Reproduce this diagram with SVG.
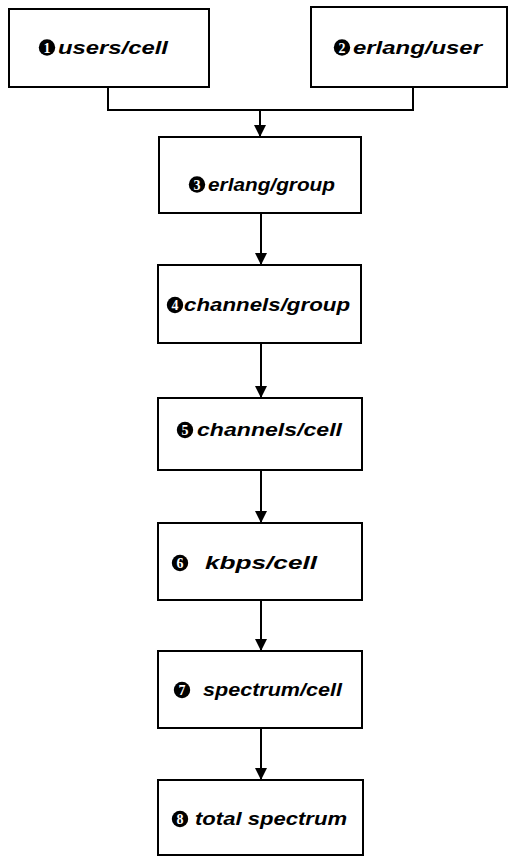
<svg xmlns="http://www.w3.org/2000/svg" width="509" height="857" viewBox="0 0 509 857">
<style>
.box{fill:#fff;stroke:#000;stroke-width:2}
.lbl{font-family:"Liberation Sans",Arial,sans-serif;font-weight:bold;font-style:italic;font-size:18px;fill:#000}
.num{font-family:"Liberation Serif","Times New Roman",serif;font-weight:bold;font-size:14px;fill:#fff;text-anchor:middle}
.line{fill:none;stroke:#000;stroke-width:2}
</style>
<defs>
<marker id="ah" markerWidth="12" markerHeight="12" refX="12" refY="6" orient="auto" markerUnits="userSpaceOnUse">
<path d="M0,0 L12,6 L0,12 Z" fill="#000"/>
</marker>
</defs>
<rect width="509" height="857" fill="#fff"/>
<g id="connectors">
<path class="line" d="M108,87 V110 H413 V87"/>
<path class="line" d="M260,110 V137" marker-end="url(#ah)"/>
<path class="line" d="M261,213 V265" marker-end="url(#ah)"/>
<path class="line" d="M261,343 V398" marker-end="url(#ah)"/>
<path class="line" d="M261,470 V523" marker-end="url(#ah)"/>
<path class="line" d="M261,600 V651" marker-end="url(#ah)"/>
<path class="line" d="M261,728 V780" marker-end="url(#ah)"/>
</g>
<g id="n1">
<rect class="box" x="9" y="9" width="200" height="78"/>
<circle cx="47" cy="47.5" r="8.2"/><text class="num" x="47" y="52.5">1</text>
<text class="lbl" x="58" y="54" textLength="110" lengthAdjust="spacingAndGlyphs">users/cell</text>
</g>
<g id="n2">
<rect class="box" x="311" y="7" width="196" height="80"/>
<circle cx="342" cy="47.5" r="8.2"/><text class="num" x="342" y="52.5">2</text>
<text class="lbl" x="353" y="54" textLength="129" lengthAdjust="spacingAndGlyphs">erlang/user</text>
</g>
<g id="n3">
<rect class="box" x="159" y="137" width="202" height="76"/>
<circle cx="197" cy="184.5" r="8.2"/><text class="num" x="197" y="189.5">3</text>
<text class="lbl" x="208" y="191" textLength="127" lengthAdjust="spacingAndGlyphs">erlang/group</text>
</g>
<g id="n4">
<rect class="box" x="158" y="265" width="203" height="78"/>
<circle cx="175" cy="305" r="8.2"/><text class="num" x="175" y="310">4</text>
<text class="lbl" x="184" y="311" textLength="166" lengthAdjust="spacingAndGlyphs">channels/group</text>
</g>
<g id="n5">
<rect class="box" x="158" y="398" width="204" height="72"/>
<circle cx="185" cy="430" r="8.2"/><text class="num" x="185" y="435">5</text>
<text class="lbl" x="197" y="436" textLength="145" lengthAdjust="spacingAndGlyphs">channels/cell</text>
</g>
<g id="n6">
<rect class="box" x="158" y="523" width="204" height="77"/>
<circle cx="180" cy="563" r="8.2"/><text class="num" x="180" y="568">6</text>
<text class="lbl" x="205" y="569" textLength="112" lengthAdjust="spacingAndGlyphs">kbps/cell</text>
</g>
<g id="n7">
<rect class="box" x="158" y="651" width="204" height="77"/>
<circle cx="182" cy="690" r="8.2"/><text class="num" x="182" y="695">7</text>
<text class="lbl" x="203" y="696" textLength="139" lengthAdjust="spacingAndGlyphs">spectrum/cell</text>
</g>
<g id="n8">
<rect class="box" x="158" y="780" width="205" height="75"/>
<circle cx="180" cy="819" r="8.2"/><text class="num" x="180" y="824">8</text>
<text class="lbl" x="195" y="825" textLength="152" lengthAdjust="spacingAndGlyphs">total spectrum</text>
</g>
</svg>
